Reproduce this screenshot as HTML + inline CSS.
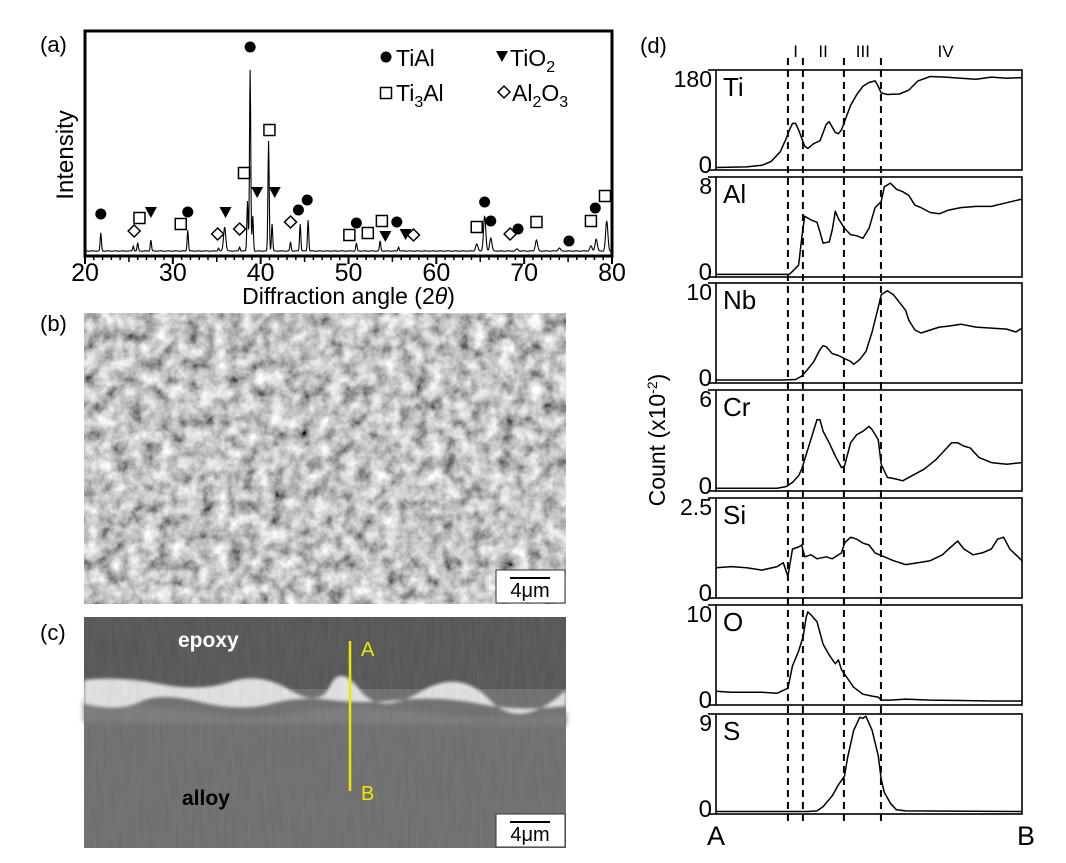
<!DOCTYPE html>
<html><head><meta charset="utf-8"><style>
body{margin:0;background:#fff;}
svg{display:block;font-family:"Liberation Sans",sans-serif;}
</style></head><body>
<svg id="fig" width="1066" height="863" viewBox="0 0 1066 863">
<defs>
<filter id="grain" x="0" y="0" width="100%" height="100%">
<feTurbulence type="fractalNoise" baseFrequency="0.07" numOctaves="4" seed="4"/>
<feColorMatrix type="matrix" values="1.3 0 0 0 -0.1  1.3 0 0 0 -0.1  1.3 0 0 0 -0.1  0 0 0 0 1"/>
</filter>
<filter id="grain2" x="0" y="0" width="100%" height="100%">
<feTurbulence type="fractalNoise" baseFrequency="0.25 0.03" numOctaves="2" seed="7"/>
<feColorMatrix type="matrix" values="0 0 0 0 0.3  0 0 0 0 0.3  0 0 0 0 0.3  0.4 0 0 0 0"/>
</filter>
<filter id="blur"><feGaussianBlur stdDeviation="1.6"/></filter>
<filter id="blur2"><feGaussianBlur stdDeviation="3"/></filter>
</defs>
<g id="xrd"></g>
<g id="sem">
<text x="40" y="331" font-size="22">(b)</text>
<rect x="84" y="313" width="482" height="291" fill="#888"/>
<rect x="84" y="313" width="482" height="291" fill="#fff" filter="url(#grain)"/>
<g><rect x="496" y="570" width="69" height="33" fill="#fff" stroke="#333"/><line x1="510" y1="578" x2="550" y2="578" stroke="#000" stroke-width="2"/><text x="530" y="597" font-size="20" text-anchor="middle">4μm</text></g>
<text x="40" y="640" font-size="22">(c)</text>
<rect x="84" y="617" width="482" height="231" fill="#6e6e6e"/>
<rect x="84" y="617" width="482" height="72" fill="#545454"/>
<path d="M84 700 Q140 704 200 712 T300 712 T380 708 T460 716 T566 712 L566 726 L84 722 Z" fill="#7a7a7a" filter="url(#blur2)"/>
<path d="M84 680 Q120 676 160 684 T230 682 T290 690 T330 686 T360 690 T420 692 T490 700 T566 690 L566 706 Q520 712 480 704 T400 700 T330 700 T270 704 T200 702 T140 702 T84 704 Z" fill="#e6e6e6" filter="url(#blur)"/>
<rect x="84" y="617" width="482" height="231" fill="#000" filter="url(#grain2)" opacity="0.5"/>
<text x="178" y="647" font-size="21" font-weight="bold" fill="#fff">epoxy</text>
<text x="182" y="805" font-size="21" font-weight="bold" fill="#000">alloy</text>
<line x1="350" y1="641" x2="350" y2="791" stroke="#f2e600" stroke-width="2.5"/>
<text x="361" y="656" font-size="20" fill="#f2e600">A</text>
<text x="361" y="800" font-size="20" fill="#f2e600">B</text>
<g><rect x="496" y="814" width="69" height="33" fill="#fff" stroke="#333"/><line x1="510" y1="822" x2="550" y2="822" stroke="#000" stroke-width="2"/><text x="530" y="841" font-size="20" text-anchor="middle">4μm</text></g>
</g>
<g id="eds"></g>
</svg>
<script>
// ---------- XRD data ----------
const xrdAngles = [21.8,25.5,26.0,27.5,31.7,35.2,35.9,37.6,38.5,38.8,39.1,40.9,41.3,43.4,44.5,45.4,50.9,53.6,55.7,64.6,65.5,66.2,69.2,71.4,74.0,77.6,78.2,79.4];
const xrdHeights = [18,5,8,11,21,3,24,4,50,181,35,110,27,9,27,31,8,10,4,7,35,13,2,11,3,5,12,30];
const xTicks = [20,30,40,50,60,70,80];
const tialMarks = [[21.8,214],[31.7,212],[38.8,47],[44.3,210],[45.3,200],[50.9,223],[55.5,222],[65.5,202],[66.2,221],[69.3,229],[75.1,241],[78.1,208]];
const ti3alMarks = [[26.2,218],[30.9,224],[38.1,173],[41.0,130],[50.1,235],[52.2,233],[53.8,221],[64.6,227],[71.4,222],[77.6,221],[79.2,196]];
const tio2Marks = [[27.5,212],[36.0,212],[39.6,192],[41.6,192],[54.2,236],[56.5,234]];
const al2o3Marks = [[25.6,231],[35.1,234],[37.6,229],[43.4,222],[57.4,235],[68.4,234]];

// ---------- EDS data (x: 0..100 along A->B) ----------
const tiX=[0,10,15,18,21,23,24,25,26,27,29,30,32,34,35,36,37,38,39,40,41,42,44,46,48,50,52,53,54,56,60,63,66,70,75,80,85,90,95,100];
const tiY=[1,2,5,12,30,55,70,82,82,70,40,36,45,50,65,80,85,75,65,63,70,85,115,135,150,157,160,150,138,135,136,143,160,168,167,165,163,167,165,166];
const alX=[0,24,25,27,28,29,31,33,34,35,37,38,39,40,42,44,46,48,50,52,54,55,57,59,61,63,65,67,70,73,76,80,85,90,95,100];
const alY=[0.05,0.05,0.3,0.8,3,4.8,4.5,4.3,3.5,2.6,2.7,3.7,5.2,4.6,3.8,3.3,3.2,3.0,3.8,5.5,6.0,7.2,7.5,7.0,6.8,6.5,5.7,5.5,5.1,5.0,5.3,5.5,5.6,5.6,5.9,6.2];
const nbX=[0,22,26,28,30,32,34,35,36,38,40,42,44,45,47,49,51,53,54,56,58,60,62,63,65,67,70,73,76,80,85,90,95,98,100];
const nbY=[0.1,0.1,0.15,0.5,1.2,2.0,3.2,3.6,3.5,2.8,2.6,2.3,2.0,1.7,2.2,3.0,5.0,7.5,8.8,9.2,8.8,8.0,7.2,6.2,5.2,4.9,5.2,5.5,5.6,5.8,5.5,5.4,5.3,5.0,5.4];
const crX=[0,20,23,25,27,28,30,32,33,34,35,37,39,41,42,44,46,48,50,51,53,54,56,59,61,64,68,72,75,77,79,81,83,86,90,95,100];
const crY=[0.05,0.05,0.15,0.4,0.8,1.2,2.4,3.6,4.2,4.2,3.5,2.8,2.0,1.3,1.4,2.8,3.3,3.5,3.8,3.6,3.0,1.5,0.7,0.6,0.5,0.8,1.2,1.8,2.4,2.8,2.8,2.6,2.5,1.9,1.6,1.5,1.6];
const siX=[0,5,10,15,20,22,23.5,25,27,28,29,31,33,36,38,41,42,44,46,48,50,52,55,58,62,66,70,74,76,79,81,84,87,90,92,94,96,100];
const siY=[0.72,0.75,0.72,0.66,0.75,0.85,0.5,1.2,1.25,1.3,1.0,1.05,0.95,1.0,0.95,1.1,1.35,1.5,1.45,1.35,1.3,1.1,1.0,0.9,0.8,0.85,0.9,1.05,1.2,1.4,1.2,1.05,1.1,1.2,1.45,1.5,1.2,0.9];
const oX=[0,5,10,15,20,22,23.5,25,27,28.5,29.5,30,31,33,35,37,39,40,41,43,45,48,51,53,54,57,62,70,80,90,100];
const oY=[1.2,1.1,1.1,1.1,1.0,1.3,1.5,3.8,5.3,6.8,8.8,9.3,9.0,8.3,6.0,4.9,4.0,4.4,3.4,2.5,1.6,0.9,0.7,0.6,0.3,0.3,0.4,0.3,0.25,0.2,0.2];
const sX=[0,30,33,35,38,40,42,43,45,47,48,49,51,53,54,55,57,59,62,100];
const sY=[0.05,0.05,0.1,0.5,1.5,2.5,3.3,5,7.5,8.7,8.6,8.8,7.5,5.2,3.0,1.8,0.8,0.2,0.1,0.05];
const elements=["Ti","Al","Nb","Cr","Si","O","S"];
const maxLabels=["180","8","10","6","2.5","10","9"];
const maxVals=[180,8,10,6,2.5,10,9];
const boundaries=[23.5,28.4,41.8,53.9];
const zoneLabels=["I","II","III","IV"];
const zonePos=[26,35,48,75];

const NS="http://www.w3.org/2000/svg";
function mk(parent,tag,attrs,text){const e=document.createElementNS(NS,tag);for(const k in attrs)e.setAttribute(k,attrs[k]);if(text!==undefined)e.textContent=text;parent.appendChild(e);return e;}

// ---------- XRD ----------
const xrd=document.getElementById('xrd');
const L=85,R=612,T=31,B=256,BASE=251;
const sx=a=>L+(a-20)*(R-L)/60;
const sy=v=>BASE-v;
let t=mk(xrd,'text',{x:40,y:52,'font-size':22},'(a)');


let d="M"+sx(20)+" "+sy(0);
for(let a=20;a<=80.001;a+=0.05){
  let v=0.4*Math.sin(a*7.3)*0.5;
  for(let i=0;i<xrdAngles.length;i++){const w=(xrdAngles[i]>64||Math.abs(xrdAngles[i]-35.9)<0.2)?0.18:0.1;v+=xrdHeights[i]*Math.exp(-Math.pow((a-xrdAngles[i])/w,2));}
  d+=" L"+sx(a).toFixed(2)+" "+sy(v).toFixed(2);
}
let p=mk(xrd,'path',{d:d,fill:'none',stroke:'#000','stroke-width':1.1});


let box=mk(xrd,'rect',{x:L,y:T,width:R-L,height:B-T,fill:'none',stroke:'#000','stroke-width':3});


for(let a=20;a<=80;a+=1){
  const major=a%10===0,mid=a%5===0;
  mk(xrd,'line',{x1:sx(a),y1:B,x2:sx(a),y2:B+(major?8:mid?6:4),stroke:'#000','stroke-width':major?2:1.5});
}
xTicks.forEach(v=>{const e=mk(xrd,'text',{x:sx(v),y:281,'font-size':25,'text-anchor':'middle'},String(v));

});
let xt=mk(xrd,'text',{x:sx(50),y:304,'font-size':23,'text-anchor':'middle'});
xt.innerHTML='Diffraction angle (2<tspan font-style="italic">θ</tspan>)';


let yt=mk(xrd,'text',{x:0,y:0,'font-size':24,'text-anchor':'middle',transform:'translate(73,155) rotate(-90)'},'Intensity');


function circ(g,x,y){return mk(g,'circle',{cx:x,cy:y,r:5.5,fill:'#000'});}
function sq(g,x,y){return mk(g,'rect',{x:x-5.5,y:y-5.5,width:11,height:11,fill:'#fff',stroke:'#000','stroke-width':1.5});}
function tri(g,x,y){return mk(g,'path',{d:`M${x-6} ${y-5} L${x+6} ${y-5} L${x} ${y+6} Z`,fill:'#000'});}
function dia(g,x,y){return mk(g,'path',{d:`M${x} ${y-6} L${x+6} ${y} L${x} ${y+6} L${x-6} ${y} Z`,fill:'#fff',stroke:'#000','stroke-width':1.5});}
tialMarks.forEach(m=>{const e=circ(xrd,sx(m[0]),m[1]);});
ti3alMarks.forEach(m=>{const e=sq(xrd,sx(m[0]),m[1]);});
tio2Marks.forEach(m=>{const e=tri(xrd,sx(m[0]),m[1]);});
al2o3Marks.forEach(m=>{const e=dia(xrd,sx(m[0]),m[1]);});
const lg=mk(xrd,'g',{});


circ(lg,386,57);mk(lg,'text',{x:396,y:66,'font-size':23},'TiAl');
tri(lg,502,56);mk(lg,'text',{x:510,y:66,'font-size':23}).innerHTML='TiO<tspan font-size="16" dy="6">2</tspan>';
sq(lg,386,93);mk(lg,'text',{x:396,y:101,'font-size':23}).innerHTML='Ti<tspan font-size="16" dy="6">3</tspan><tspan dy="-6">Al</tspan>';
dia(lg,504,92);mk(lg,'text',{x:512,y:101,'font-size':23}).innerHTML='Al<tspan font-size="16" dy="6">2</tspan><tspan dy="-6">O</tspan><tspan font-size="16" dy="6">3</tspan>';

// ---------- EDS ----------
const eds=document.getElementById('eds');
const EL=716,ER=1022;
const tops=[70,177,283,390,498,605,714],bots=[170,277,383,491,598,705,814];
const ex=v=>EL+v*(ER-EL)/100;
const xs=[tiX,alX,nbX,crX,siX,oX,sX],ys=[tiY,alY,nbY,crY,siY,oY,sY];
let dl=mk(eds,'text',{x:640,y:53,'font-size':22},'(d)');


elements.forEach((el,i)=>{
  const g=mk(eds,'g',{});
  
  
  const yT=tops[i],yB=bots[i];
  const ey=v=>yB-2-v*(yB-2-yT)/maxVals[i];
  mk(g,'rect',{x:EL,y:yT,width:ER-EL,height:yB-yT,fill:'none',stroke:'#000','stroke-width':1.6});
  mk(g,'line',{x1:EL-8,y1:yT,x2:EL,y2:yT,stroke:'#000','stroke-width':1.6});
  mk(g,'line',{x1:EL-8,y1:yB,x2:EL,y2:yB,stroke:'#000','stroke-width':1.6});
  mk(g,'text',{x:EL-4,y:yT+17,'font-size':23,'text-anchor':'end'},maxLabels[i]);
  mk(g,'text',{x:EL-4,y:yB+3,'font-size':24,'text-anchor':'end'},'0');
  mk(g,'text',{x:EL+7,y:yT+26,'font-size':26},el);
  let dd='';
  xs[i].forEach((xv,j)=>{dd+=(j?' L':'M')+ex(xv).toFixed(1)+' '+ey(ys[i][j]).toFixed(1);});
  const ln=mk(g,'path',{d:dd,fill:'none',stroke:'#000','stroke-width':1.5,'stroke-linejoin':'round'});
  
  
});
boundaries.forEach(b=>{const e=mk(eds,'line',{x1:ex(b),y1:58,x2:ex(b),y2:822,stroke:'#000','stroke-width':2,'stroke-dasharray':'7,5'});

});
zoneLabels.forEach((z,i)=>{const e=mk(eds,'text',{x:ex(zonePos[i]),y:57,'font-size':17,'text-anchor':'middle'},z);

});
let yl=mk(eds,'text',{x:0,y:0,'font-size':23,'text-anchor':'middle',transform:'translate(665,440) rotate(-90)'});
yl.innerHTML='Count (x10<tspan font-size="14" dy="-8">-2</tspan><tspan dy="8">)</tspan>';


let la=mk(eds,'text',{x:716,y:845,'font-size':27,'text-anchor':'middle'},'A');


let lb=mk(eds,'text',{x:1026,y:845,'font-size':27,'text-anchor':'middle'},'B');


</script>
</body></html>
